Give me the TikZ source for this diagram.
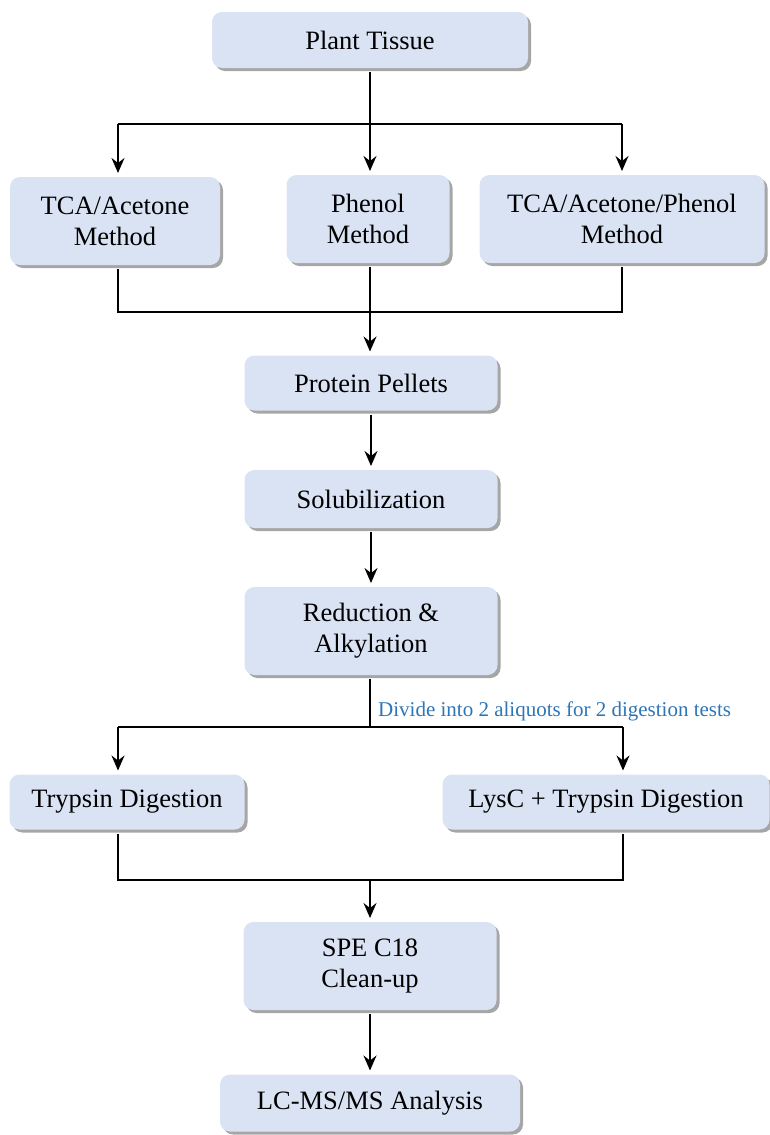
\documentclass[tikz,border=0pt]{standalone}
\usepackage{fontspec}
\setmainfont{Liberation Serif}
\usetikzlibrary{arrows.meta,shadows}
\definecolor{boxblue}{RGB}{218,227,243}
\definecolor{noteblue}{RGB}{46,117,182}
\tikzset{
  stepbox/.style={fill=boxblue, rounded corners=10pt, align=center, inner sep=2pt,
    font=\fontsize{26.5}{31}\selectfont, outer sep=4pt,
    drop shadow={shadow xshift=3pt, shadow yshift=-3pt, fill=black, opacity=0.35}},
  note/.style={text=noteblue, font=\fontsize{21}{25}\selectfont, inner sep=0pt},
  arr/.style={-{Stealth[length=15pt,width=13pt,inset=5pt]}, line width=1.8pt},
  link/.style={line width=1.8pt},
}

\begin{document}
\begin{tikzpicture}[x=1pt,y=-1pt]
  \useasboundingbox (0,0) rectangle (770,1135);

  \node [stepbox, minimum width=316pt, minimum height=56pt] (tissue) at (370,40) {Plant Tissue};
  \node [stepbox, minimum width=210pt, minimum height=88pt] (tca) at (115,221) {TCA/Acetone\\Method};
  \node [stepbox, minimum width=163pt, minimum height=88pt] (phenol) at (368,219) {Phenol\\Method};
  \node [stepbox, minimum width=285pt, minimum height=88pt] (tap) at (622,219) {TCA/Acetone/Phenol\\Method};
  \node [stepbox, minimum width=253pt, minimum height=55pt] (pellets) at (371,383) {Protein Pellets};
  \node [stepbox, minimum width=253pt, minimum height=58pt] (solub) at (371,499) {Solubilization};
  \node [stepbox, minimum width=253pt, minimum height=88pt] (reduct) at (371,631) {Reduction \&\\Alkylation};
  \node [stepbox, minimum width=235pt, minimum height=55pt] (trypsin) at (127,802) {Trypsin Digestion};
  \node [stepbox, minimum width=327pt, minimum height=55pt] (lysc) at (606,802) {LysC + Trypsin Digestion};
  \node [stepbox, minimum width=253pt, minimum height=88pt] (spe) at (370,966) {SPE C18\\Clean-up};
  \node [stepbox, minimum width=300pt, minimum height=57pt] (lcms) at (370,1103) {LC-MS/MS Analysis};
  \node [note, anchor=base west] (divide) at (378,716) {Divide into 2 aliquots for 2 digestion tests};

  % split to the three extraction methods
  \coordinate (s1l) at (118,124);
  \coordinate (s1r) at (622,124);
  \draw [arr] (tissue.south) -- (tissue.south |- phenol.north);
  \draw [link] (s1l) -- (s1r);
  \draw [arr] (s1l) -- (s1l |- tca.north);
  \draw [arr] (s1r) -- (s1r |- tap.north);

  % merge into pellets
  \coordinate (m1l) at (118,312);
  \coordinate (m1) at (370,312);
  \coordinate (m1r) at (622,312);
  \draw [link] (tca.south -| m1l) -- (m1l) -- (m1r) -- (tap.south -| m1r);
  \draw [link] (phenol.south -| m1) -- (m1);
  \draw [arr] (m1) -- (pellets.north -| m1);

  \draw [arr] (pellets) -- (solub);
  \draw [arr] (solub) -- (reduct);

  % split into two digestions
  \coordinate (s2l) at (118,727);
  \coordinate (s2) at (370,727);
  \coordinate (s2r) at (623,727);
  \draw [link] (reduct.south -| s2) -- (s2);
  \draw [link] (s2l) -- (s2r);
  \draw [arr] (s2l) -- (s2l |- trypsin.north);
  \draw [arr] (s2r) -- (s2r |- lysc.north);

  % merge into clean-up
  \coordinate (m2l) at (118,880);
  \coordinate (m2) at (370,880);
  \coordinate (m2r) at (623,880);
  \draw [link] (trypsin.south -| m2l) -- (m2l) -- (m2r) -- (lysc.south -| m2r);
  \draw [arr] (m2) -- (spe.north -| m2);
  \draw [arr] (spe) -- (lcms);
\end{tikzpicture}
\end{document}
